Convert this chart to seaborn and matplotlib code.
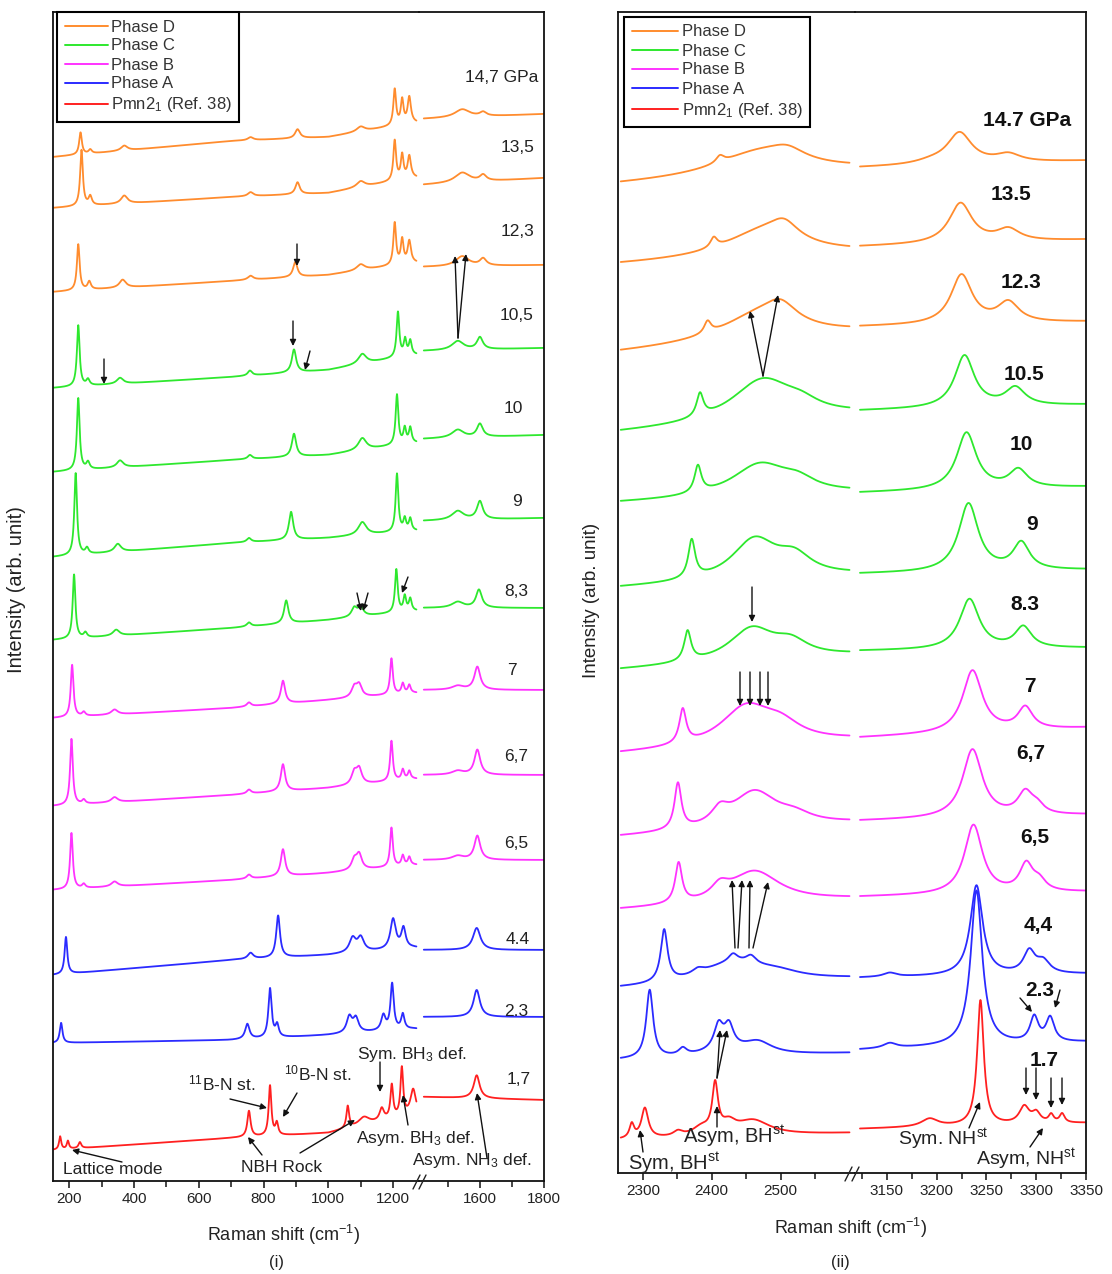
import numpy as np
import pandas as pd
import matplotlib
matplotlib.use('Agg')
import matplotlib.pyplot as plt
from matplotlib.lines import Line2D
from matplotlib.patches import FancyArrowPatch
import seaborn as sns

# ---------------- data ----------------
PHASE_COLORS = {'D': '#FF8C2E', 'C': '#2EE82E', 'B': '#FF33FF', 'A': '#2B2BFF', 'R': '#FF2020'}
LEGEND_PHASES = ['D', 'C', 'B', 'A', 'R']
LEGEND_LABELS = ['Phase D', 'Phase C', 'Phase B', 'Phase A', 'Pmn2$_1$ (Ref. 38)']

# ---- panel (i): 150-1800 cm-1 ----
left_labels = ['14,7 GPa', '13,5', '12,3', '10,5', '10', '9', '8,3', '7', '6,7', '6,5', '4.4', '2.3', '1,7']
left_phases = ['D', 'D', 'D', 'C', 'C', 'C', 'C', 'B', 'B', 'B', 'A', 'A', 'R']
left_low_anchor = [150, 700, 1000, 1260]
left_low_base = [
    [1024, 1040, 1044, 1058], [973, 984, 988, 1003], [889, 900, 906, 918],
    [793, 804, 811, 826], [709, 721, 726, 738], [624, 638, 643, 650],
    [541, 553, 561, 570], [463, 473, 481, 488], [375, 386, 393, 402],
    [291, 301, 308, 316], [206, 221, 226, 233], [138, 141, 146, 152],
    [31, 43, 48, 66]]
left_high_anchor = [1420, 1800]
left_high_base = [[1062, 1067], [996, 1003], [914, 916], [830, 833], [742, 746],
                  [660, 663], [573, 573], [491, 491], [406, 406], [321, 321],
                  [231, 231], [164, 164], [84, 81]]
# peaks: (position cm-1, height, half width)
left_peaks = [
    [(235, 22, 5), (265, 4, 6), (370, 5, 12), (760, 3, 10), (905, 9, 9), (1100, 5, 15),
     (1205, 36, 5), (1228, 24, 5), (1250, 26, 6), (1545, 8, 28), (1610, 4, 12)],
    [(238, 56, 5), (265, 9, 6), (370, 8, 12), (760, 4, 10), (905, 12, 8), (1100, 6, 15),
     (1205, 40, 5), (1228, 24, 5), (1250, 22, 6), (1545, 10, 28), (1610, 6, 12)],
    [(228, 46, 5), (262, 8, 6), (365, 8, 12), (760, 4, 10), (898, 15, 8), (1100, 6, 15),
     (1205, 42, 5), (1228, 24, 5), (1250, 22, 6), (1545, 10, 25), (1610, 7, 12)],
    [(228, 61, 5), (258, 6, 6), (357, 6, 12), (758, 5, 8), (894, 23, 8), (1105, 10, 15),
     (1215, 45, 5), (1237, 16, 5), (1253, 14, 5), (1531, 9, 22), (1600, 12, 11)],
    [(228, 72, 5), (258, 7, 6), (357, 7, 12), (758, 4, 8), (894, 23, 8), (1105, 12, 15),
     (1212, 50, 5), (1236, 15, 5), (1253, 15, 5), (1531, 8, 22), (1600, 13, 11)],
    [(220, 82, 5), (255, 6, 6), (350, 8, 12), (755, 4, 8), (885, 28, 8), (1105, 13, 15),
     (1212, 58, 5), (1236, 12, 5), (1253, 12, 5), (1531, 9, 22), (1600, 18, 11)],
    [(215, 64, 5), (250, 5, 6), (345, 6, 12), (755, 4, 8), (870, 23, 8), (1080, 9, 10),
     (1100, 9, 10), (1210, 43, 5), (1236, 15, 5), (1253, 12, 5), (1531, 6, 22), (1597, 18, 11)],
    [(209, 52, 5), (245, 4, 6), (340, 5, 12), (755, 4, 8), (860, 23, 8), (1080, 10, 10),
     (1095, 12, 10), (1195, 36, 5), (1230, 10, 5), (1250, 8, 5), (1531, 4, 22), (1592, 23, 11)],
    [(207, 66, 5), (245, 4, 6), (340, 5, 12), (755, 4, 8), (860, 27, 8), (1080, 12, 10),
     (1095, 15, 10), (1195, 40, 5), (1230, 10, 5), (1250, 8, 5), (1531, 4, 22), (1592, 25, 11)],
    [(207, 56, 5), (245, 4, 6), (340, 5, 12), (755, 4, 8), (860, 27, 8), (1080, 10, 10),
     (1095, 15, 10), (1195, 39, 5), (1230, 10, 5), (1250, 8, 5), (1531, 4, 22), (1592, 24, 11)],
    [(190, 37, 5), (760, 6, 10), (845, 42, 7), (1075, 14, 12), (1100, 14, 12),
     (1200, 30, 10), (1232, 20, 8), (1590, 22, 14)],
    [(175, 20, 5), (750, 15, 8), (820, 49, 6), (842, 12, 6), (1065, 16, 10), (1085, 14, 10),
     (1170, 15, 8), (1197, 46, 6), (1230, 15, 6), (1590, 27, 12)],
    [(172, 13, 4), (196, 8, 4), (233, 6, 5), (755, 26, 6), (820, 50, 5), (841, 12, 5),
     (1060, 22, 5), (1110, 8, 20), (1165, 12, 8), (1196, 33, 5), (1227, 48, 5),
     (1262, 25, 10), (1590, 23, 11)]]

# ---- panel (ii): 2264-2608 and 3118-3350 cm-1 ----
right_labels = ['14.7 GPa', '13.5', '12.3', '10.5', '10', '9', '8.3', '7', '6,7', '6,5', '4,4', '2.3', '1.7']
right_phases = left_phases
right_low_anchor = [2264, 2608]
right_low_base = [[988, 1003], [908, 920], [820, 840], [740, 758], [670, 680], [585, 598],
                  [503, 518], [419, 433], [336, 350], [263, 274], [184, 194], [113, 120], [33, 40]]
right_high_anchor = [3118, 3350]
right_high_base = [[1005, 1012], [926, 933], [846, 851], [762, 768], [680, 686], [599, 603],
                   [522, 525], [435, 445], [352, 358], [276, 281], [195, 199], [123, 131], [44, 50]]
right_peaks = [
    [(2412, 7, 7), (2470, 24, 80), (2510, 10, 30), (3195, 3, 20), (3223, 31, 15), (3272, 8, 15)],
    [(2403, 10, 6), (2475, 26, 70), (2505, 16, 25), (3224, 40, 14), (3272, 12, 14)],
    [(2394, 12, 6), (2470, 26, 70), (2500, 18, 28), (3225, 49, 13), (3272, 20, 13)],
    [(2383, 23, 6), (2474, 42, 55), (2530, 8, 30), (3228, 52, 12), (3279, 18, 12)],
    [(2380, 27, 6), (2470, 32, 50), (2525, 10, 30), (3230, 57, 12), (3282, 18, 11)],
    [(2371, 38, 6), (2462, 40, 40), (2520, 18, 30), (3232, 68, 12), (3285, 27, 10)],
    [(2365, 30, 6), (2458, 32, 40), (2515, 14, 30), (3233, 50, 12), (3287, 21, 10)],
    [(2358, 34, 6), (2450, 38, 45), (2500, 15, 35), (3236, 62, 12), (3289, 22, 9)],
    [(2351, 46, 6), (2412, 14, 15), (2462, 36, 40), (2520, 8, 30), (3236, 68, 12),
     (3289, 22, 9), (3301, 8, 8)],
    [(2352, 40, 6), (2412, 12, 15), (2462, 32, 45), (3237, 69, 11), (3290, 27, 8), (3303, 10, 8)],
    [(2331, 52, 6), (2380, 5, 10), (2430, 20, 60), (2431, 8, 8), (2457, 8, 9), (2495, 6, 40),
     (3153, 4, 8), (3240, 90, 7.5), (3293, 22, 7), (3307, 12, 8)],
    [(2310, 68, 6), (2358, 7, 7), (2410, 24, 8), (2425, 22, 8), (2467, 12, 25), (2420, 6, 40),
     (3153, 5, 8), (3240, 155, 7), (3298, 25, 5), (3314, 24, 5)],
    [(2284, 14, 4), (2303, 30, 6), (2351, 5, 8), (2385, 8, 15), (2405, 48, 5), (2425, 10, 12),
     (2460, 15, 30), (3193, 8, 10), (3244, 125, 4), (3288, 17, 6), (3300, 10, 5),
     (3315, 8, 3), (3326, 9, 3)]]

left_ticks_a = [200, 400, 600, 800, 1000, 1200]
left_minor_a = [300, 500, 700, 900, 1100]
left_ticks_b = [1600, 1800]
left_minor_b = [1500, 1700]
right_ticks_a = [2300, 2400, 2500]
right_minor_a = [2350, 2450, 2550]
right_ticks_b = [3150, 3200, 3250, 3300, 3350]
right_minor_b = [3125, 3175, 3225, 3275, 3325]

# ---------------- build curves ----------------
def lorentz(x, peaks):
    y = np.zeros_like(x)
    for c, h, g in peaks:
        y += h / (1.0 + ((x - c) / g) ** 2)
    return y

segments = {
    'La': np.linspace(150, 1272, 2000), 'Lb': np.linspace(1425, 1800, 800),
    'Ra': np.linspace(2268, 2600, 900), 'Rb': np.linspace(3123, 3350, 900)}

rows = []
for i in range(len(left_labels)):
    for seg, anc, base in (('La', left_low_anchor, left_low_base[i]),
                           ('Lb', left_high_anchor, left_high_base[i])):
        x = segments[seg]
        y = np.interp(x, anc, base) + lorentz(x, left_peaks[i])
        rows.append(pd.DataFrame({'seg': seg, 'x': x, 'y': y,
                                  'phase': left_phases[i], 'spec': f'L{i}'}))
for i in range(len(right_labels)):
    for seg, anc, base in (('Ra', right_low_anchor, right_low_base[i]),
                           ('Rb', right_high_anchor, right_high_base[i])):
        x = segments[seg]
        y = np.interp(x, anc, base) + lorentz(x, right_peaks[i])
        rows.append(pd.DataFrame({'seg': seg, 'x': x, 'y': y,
                                  'phase': right_phases[i], 'spec': f'R{i}'}))
df = pd.concat(rows, ignore_index=True)

# ---------------- styling ----------------
sns.set_style('ticks')
plt.rcParams['font.family'] = ['Liberation Sans', 'DejaVu Sans']
plt.rcParams['mathtext.fontset'] = 'custom'
plt.rcParams['mathtext.rm'] = 'Liberation Sans'
plt.rcParams['mathtext.it'] = 'Liberation Sans:italic'
plt.rcParams['mathtext.bf'] = 'Liberation Sans:bold'

W, H = 1112, 1274
fig = plt.figure(figsize=(W / 100, H / 100), dpi=100)
fig.patch.set_facecolor('white')

def P(x, y):
    return (x / W, 1 - y / H)

def rect(x0, x1, top, bot):
    return [x0 / W, 1 - bot / H, (x1 - x0) / W, (bot - top) / H]

axes = {
    'La': fig.add_axes(rect(53, 419, 12, 1181)),
    'Lb': fig.add_axes(rect(419, 544, 12, 1181)),
    'Ra': fig.add_axes(rect(618, 855, 12, 1173)),
    'Rb': fig.add_axes(rect(855, 1086, 12, 1173)),
}
xlims = {'La': (150, 1280), 'Lb': (1410, 1800), 'Ra': (2264, 2608), 'Rb': (3118, 3350)}
ylims = {'La': (0, 1169), 'Lb': (0, 1169), 'Ra': (0, 1161), 'Rb': (0, 1161)}
majors = {'La': left_ticks_a, 'Lb': left_ticks_b, 'Ra': right_ticks_a, 'Rb': right_ticks_b}
minors = {'La': left_minor_a, 'Lb': left_minor_b, 'Ra': right_minor_a, 'Rb': right_minor_b}

for key, ax in axes.items():
    sub = df[df['seg'] == key]
    sns.lineplot(data=sub, x='x', y='y', hue='phase', units='spec', estimator=None,
                 palette=PHASE_COLORS, legend=False, sort=False, linewidth=1.3, ax=ax)
    ax.set_facecolor('none')
    ax.set_xlim(*xlims[key])
    ax.set_ylim(*ylims[key])
    ax.set_xlabel('')
    ax.set_ylabel('')
    ax.set_yticks([])
    ax.set_xticks(majors[key])
    ax.set_xticks(minors[key], minor=True)
    ax.tick_params(axis='x', which='major', direction='out', length=5, width=1.2,
                   labelsize=11, pad=3, colors='#222222')
    ax.tick_params(axis='x', which='minor', direction='out', length=4, width=1.2)
    for s in ax.spines.values():
        s.set_linewidth(1.3)
        s.set_color('#111111')

axes['La'].spines['right'].set_visible(False)
axes['Lb'].spines['left'].set_visible(False)
axes['Ra'].spines['right'].set_visible(False)
axes['Rb'].spines['left'].set_visible(False)

# break marks
for (xa, ya, xb, yb) in [(413, 1189, 420, 1175), (419, 1189, 426, 1175),
                         (845, 1181, 852, 1167), (852, 1181, 859, 1167)]:
    fig.add_artist(Line2D([xa / W, xb / W], [1 - ya / H, 1 - yb / H], color='#222222', lw=1.0))

# legends
handles = [Line2D([], [], color=PHASE_COLORS[p], lw=1.4) for p in LEGEND_PHASES]
for key, anchor, hl in (('La', P(57, 12), 2.6), ('Ra', P(624, 17), 2.8)):
    leg = axes[key].legend(handles, LEGEND_LABELS, loc='upper left', bbox_to_anchor=anchor,
                           bbox_transform=fig.transFigure, fontsize=12, frameon=True,
                           fancybox=False, framealpha=1, edgecolor='black', handlelength=hl,
                           handletextpad=0.2, labelspacing=0.24, borderpad=0.45,
                           borderaxespad=0)
    leg.get_frame().set_linewidth(1.5)
    for t in leg.get_texts():
        t.set_color('#333333')

def T(x, y, s, size, weight='normal', rotation=0, color='#222222'):
    fig.text(x / W, 1 - y / H, s, ha='center', va='center', fontsize=size,
             fontweight=weight, rotation=rotation, color=color)

# pressure labels
left_label_pos = [(502, 77), (518, 147), (518, 231), (517, 316), (513, 409), (517, 502),
                  (516, 592), (512, 671), (516, 757), (516, 843), (518, 940), (516, 1012),
                  (519, 1079)]
for s, (x, y) in zip(left_labels, left_label_pos):
    T(x, y, s, 12.5)
right_label_pos = [(1027, 121), (1011, 194), (1021, 282), (1024, 374), (1021, 445),
                   (1032, 524), (1025, 604), (1030, 687), (1031, 753), (1035, 837),
                   (1038, 925), (1040, 990), (1044, 1060)]
for s, (x, y) in zip(right_labels, right_label_pos):
    T(x, y, s, 15, weight='bold', color='#111111')

# axis labels
T(17, 590, 'Intensity (arb. unit)', 14.5, rotation=90)
T(592, 600, 'Intensity (arb. unit)', 13.5, rotation=90)
T(283, 1235, 'Raman shift (cm$^{-1}$)', 13)
T(850, 1228, 'Raman shift (cm$^{-1}$)', 13)
T(277, 1262, '(i)', 12)
T(840, 1262, '(ii)', 12)

# band annotations
T(222, 1083, '$^{11}$B-N st.', 12.5)
T(318, 1073, '$^{10}$B-N st.', 12.5)
T(412, 1055, 'Sym. BH$_3$ def.', 12.5)
T(415, 1138, 'Asym. BH$_3$ def.', 12.5)
T(282, 1168, 'NBH Rock', 12.5)
T(113, 1170, 'Lattice mode', 12.5)
T(472, 1160, 'Asym. NH$_3$ def.', 12.5)
T(674, 1163, 'Sym, BH$^{\\mathrm{st}}$', 14.5)
T(734, 1136, 'Asym, BH$^{\\mathrm{st}}$', 14.5)
T(943, 1139, 'Sym. NH$^{\\mathrm{st}}$', 14)
T(1026, 1159, 'Asym, NH$^{\\mathrm{st}}$', 14)

def A(x0, y0, x1, y1):
    fig.add_artist(FancyArrowPatch(P(x0, y0), P(x1, y1), transform=fig.transFigure,
                                   arrowstyle='-|>', mutation_scale=9, color='#111111',
                                   lw=1.0, shrinkA=0, shrinkB=0))

arrows = [
    (297, 244, 297, 266), (458, 338, 455, 256), (458, 338, 466, 254),
    (293, 321, 293, 346), (104, 359, 104, 384), (310, 351, 305, 370),
    (357, 593, 361, 611), (368, 593, 363, 611), (408, 577, 402, 593),
    (230, 1099, 267, 1108), (297, 1093, 283, 1117), (380, 1062, 380, 1092),
    (408, 1125, 403, 1095), (300, 1153, 355, 1120), (262, 1155, 248, 1137),
    (122, 1162, 72, 1150), (487, 1158, 477, 1093),
    (763, 376, 750, 311), (763, 376, 778, 295), (752, 587, 752, 622),
    (740, 672, 740, 706), (750, 672, 750, 706), (760, 672, 760, 706), (768, 672, 768, 706),
    (735, 948, 732, 880), (738, 948, 742, 880), (749, 948, 750, 880), (753, 948, 768, 882),
    (717, 1078, 720, 1030), (717, 1078, 727, 1030),
    (1020, 998, 1032, 1012), (1060, 990, 1055, 1008),
    (1026, 1068, 1026, 1095), (1036, 1068, 1036, 1100), (1051, 1078, 1051, 1108),
    (1062, 1078, 1062, 1105),
    (643, 1152, 640, 1130), (717, 1127, 717, 1106), (969, 1128, 980, 1102),
    (1030, 1147, 1043, 1128)]
for a in arrows:
    A(*a)

fig.savefig('out.png', dpi=100)
